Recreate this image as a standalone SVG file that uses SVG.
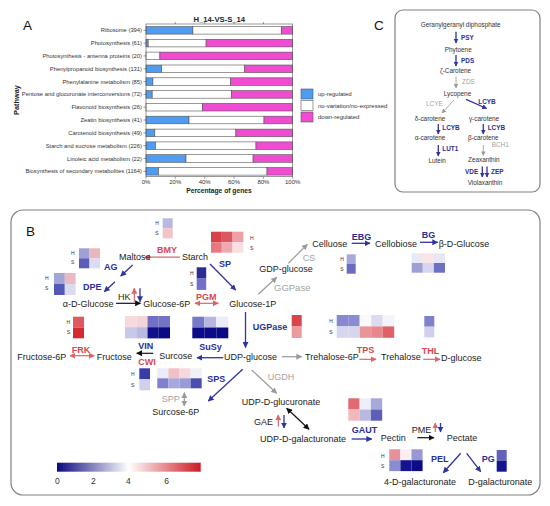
<svg xmlns="http://www.w3.org/2000/svg" width="550" height="506" viewBox="0 0 550 506">
<style>
text{font-family:"Liberation Sans",Arial,sans-serif}
.t{font-size:9px;fill:#222}
.eb{font-size:9px;font-weight:bold;fill:#2b2f93}
.er{font-size:9px;font-weight:bold;fill:#d6474e}
.eg{font-size:9px;fill:#a3a3a3}
.hs{font-size:5px;fill:#333;text-anchor:middle}
.al{font-size:5.8px;fill:#333;text-anchor:end}
.ax{font-size:6px;fill:#333;text-anchor:middle}
.lg{font-size:6px;fill:#333}
.ct{font-size:6.4px;fill:#333;text-anchor:middle}
.cb{font-size:6.4px;font-weight:bold;fill:#2b2f93}
.cg{font-size:6.4px;fill:#a3a3a3}
.pl{font-size:13.5px;fill:#111}
.up{fill:#4f9cf0;stroke:#555;stroke-width:0.6}
.no{fill:#fff;stroke:#555;stroke-width:0.6}
.dn{fill:#f04cd2;stroke:#555;stroke-width:0.6}
.lb{stroke:#2f34a0;stroke-width:1.3;fill:none;marker-end:url(#mb)}
.lr{stroke:#de6468;stroke-width:1.2;fill:none;marker-end:url(#mr)}
.lr2{stroke:#de6468;stroke-width:1.2;fill:none;marker-end:url(#mr);marker-start:url(#mr)}
.lg1{stroke:#9a9a9a;stroke-width:1.2;fill:none;marker-end:url(#mg)}
.lg2{stroke:#9a9a9a;stroke-width:1.2;fill:none;marker-end:url(#mg);marker-start:url(#mg)}
.lk{stroke:#111;stroke-width:1.2;fill:none;marker-end:url(#mk)}
.lk2{stroke:#111;stroke-width:1.2;fill:none;marker-end:url(#mk);marker-start:url(#mk)}
.cl{stroke:#2f34a0;stroke-width:1.3;fill:none;marker-end:url(#sb)}
.cgl{stroke:#9a9a9a;stroke-width:0.8;fill:none;marker-end:url(#sg)}
.box{fill:none;stroke:#808080;stroke-width:1.2}
</style>
<defs>
<marker id="mb" viewBox="0 0 10 10" refX="9" refY="5" markerWidth="6" markerHeight="6" markerUnits="userSpaceOnUse" orient="auto-start-reverse"><path d="M0,0L10,5L0,10z" fill="#2f34a0"/></marker>
<marker id="mr" viewBox="0 0 10 10" refX="9" refY="5" markerWidth="6" markerHeight="6" markerUnits="userSpaceOnUse" orient="auto-start-reverse"><path d="M0,0L10,5L0,10z" fill="#de6468"/></marker>
<marker id="mg" viewBox="0 0 10 10" refX="9" refY="5" markerWidth="6" markerHeight="6" markerUnits="userSpaceOnUse" orient="auto-start-reverse"><path d="M0,0L10,5L0,10z" fill="#9a9a9a"/></marker>
<marker id="mk" viewBox="0 0 10 10" refX="9" refY="5" markerWidth="6" markerHeight="6" markerUnits="userSpaceOnUse" orient="auto-start-reverse"><path d="M0,0L10,5L0,10z" fill="#111"/></marker>
<marker id="sb" viewBox="0 0 10 10" refX="9" refY="5" markerWidth="5" markerHeight="5" markerUnits="userSpaceOnUse" orient="auto"><path d="M0,0L10,5L0,10z" fill="#2f34a0"/></marker>
<marker id="sg" viewBox="0 0 10 10" refX="9" refY="5" markerWidth="4.5" markerHeight="4.5" markerUnits="userSpaceOnUse" orient="auto"><path d="M0,0L10,5L0,10z" fill="#9a9a9a"/></marker>
<linearGradient id="cbar" x1="0" y1="0" x2="1" y2="0">
<stop offset="0" stop-color="#0a0a80"/><stop offset="0.5" stop-color="#ffffff"/><stop offset="1" stop-color="#cc1a22"/>
</linearGradient>
</defs>
<rect width="550" height="506" fill="#fff"/>

<!-- Panel A -->
<g id="panelA">
<text class="pl" x="23" y="30">A</text>
<text x="219.3" y="22" style="font-size:7.7px;font-weight:bold;fill:#222" text-anchor="middle">H_14-VS-S_14</text>
<text transform="translate(19,100) rotate(-90)" style="font-size:7.4px;font-weight:bold;fill:#222" text-anchor="middle">Pathway</text>
<g id="bars">
<rect class="up" x="146" y="26.5" width="46.9" height="7.6"/><rect class="no" x="192.9" y="26.5" width="88.8" height="7.6"/><rect class="dn" x="281.7" y="26.5" width="11" height="7.6"/>
<rect class="up" x="146" y="39.3" width="2.2" height="7.6"/><rect class="no" x="148.2" y="39.3" width="57.9" height="7.6"/><rect class="dn" x="206.1" y="39.3" width="86.6" height="7.6"/>
<rect class="no" x="146" y="52.1" width="13.9" height="7.6"/><rect class="dn" x="159.9" y="52.1" width="132.8" height="7.6"/>
<rect class="up" x="146" y="65" width="15.7" height="7.6"/><rect class="no" x="161.7" y="65" width="83" height="7.6"/><rect class="dn" x="244.7" y="65" width="48" height="7.6"/>
<rect class="up" x="146" y="77.8" width="6.9" height="7.6"/><rect class="no" x="152.9" y="77.8" width="77.7" height="7.6"/><rect class="dn" x="230.6" y="77.8" width="62.1" height="7.6"/>
<rect class="up" x="146" y="90.6" width="6.2" height="7.6"/><rect class="no" x="152.2" y="90.6" width="79.3" height="7.6"/><rect class="dn" x="231.5" y="90.6" width="61.2" height="7.6"/>
<rect class="no" x="146" y="103.4" width="56.3" height="7.6"/><rect class="dn" x="202.3" y="103.4" width="90.4" height="7.6"/>
<rect class="up" x="146" y="116.2" width="43" height="7.6"/><rect class="no" x="189" y="116.2" width="75" height="7.6"/><rect class="dn" x="264" y="116.2" width="28.7" height="7.6"/>
<rect class="up" x="146" y="129.1" width="8.8" height="7.6"/><rect class="no" x="154.8" y="129.1" width="81.1" height="7.6"/><rect class="dn" x="235.9" y="129.1" width="56.8" height="7.6"/>
<rect class="up" x="146" y="141.9" width="9.5" height="7.6"/><rect class="no" x="155.5" y="141.9" width="100.5" height="7.6"/><rect class="dn" x="256" y="141.9" width="36.7" height="7.6"/>
<rect class="up" x="146" y="154.7" width="40" height="7.6"/><rect class="no" x="186" y="154.7" width="67.1" height="7.6"/><rect class="dn" x="253.1" y="154.7" width="39.6" height="7.6"/>
<rect class="up" x="146" y="167.5" width="12.5" height="7.6"/><rect class="no" x="158.5" y="167.5" width="108.5" height="7.6"/><rect class="dn" x="267" y="167.5" width="25.7" height="7.6"/>
</g>
<g id="axes" stroke="#555" stroke-width="0.6" fill="none">
<rect x="146" y="24" width="146.7" height="152.7"/>
<path d="M175.3,24v-2M204.7,24v-2M234,24v-2M263.4,24v-2M146,176.7v2M175.3,176.7v2M204.7,176.7v2M234,176.7v2M263.4,176.7v2M292.7,176.7v2"/>
<path d="M143.5,30.3h2.5M143.5,43.1h2.5M143.5,55.9h2.5M143.5,68.8h2.5M143.5,81.6h2.5M143.5,94.4h2.5M143.5,107.2h2.5M143.5,120h2.5M143.5,132.9h2.5M143.5,145.7h2.5M143.5,158.5h2.5M143.5,171.3h2.5"/>
</g>
<g id="catlabels">
<text class="al" x="142" y="32.3">Ribosome (394)</text>
<text class="al" x="142" y="45.1">Photosynthesis (61)</text>
<text class="al" x="142" y="57.9">Photosynthesis - antenna proteins (20)</text>
<text class="al" x="142" y="70.8">Phenylpropanoid biosynthesis (131)</text>
<text class="al" x="142" y="83.6">Phenylalanine metabolism (85)</text>
<text class="al" x="142" y="96.4">Pentose and glucuronate interconversions (72)</text>
<text class="al" x="142" y="109.2">Flavonoid biosynthesis (26)</text>
<text class="al" x="142" y="122">Zeatin biosynthesis (41)</text>
<text class="al" x="142" y="134.9">Carotenoid biosynthesis (49)</text>
<text class="al" x="142" y="147.7">Starch and sucrose metabolism (226)</text>
<text class="al" x="142" y="160.5">Linoleic acid metabolism (22)</text>
<text class="al" x="142" y="173.3">Biosynthesis of secondary metabolites (1164)</text>
</g>
<g id="ticklabels">
<text class="ax" x="146" y="183.7">0%</text><text class="ax" x="175.3" y="183.7">20%</text><text class="ax" x="204.7" y="183.7">40%</text><text class="ax" x="234" y="183.7">60%</text><text class="ax" x="263.4" y="183.7">80%</text><text class="ax" x="292.7" y="183.7">100%</text>
</g>
<text x="219" y="192.8" style="font-size:6.7px;font-weight:bold;fill:#222" text-anchor="middle">Percentage of genes</text>
<g id="legendA">
<rect class="up" x="301" y="89" width="12" height="10"/><text class="lg" x="318" y="96">up-regulated</text>
<rect class="no" x="301" y="100.5" width="12" height="10"/><text class="lg" x="318" y="107.5">no-variation/no-expressed</text>
<rect class="dn" x="301" y="112" width="12" height="10"/><text class="lg" x="318" y="119">down-regulated</text>
</g>
</g>

<!-- Panel C -->
<g id="panelC">
<text class="pl" x="374" y="30">C</text>
<rect class="box" x="395" y="10" width="145" height="182" rx="8"/>
<g id="c-nodes">
<text id="ggpp" class="ct" x="460.7" y="26.6">Geranylgeranyl diphosphate</text>
<text id="phytoene" class="ct" x="458.2" y="51.6">Phytoene</text>
<text id="zcarotene" class="ct" x="455.5" y="73.4">ζ-Carotene</text>
<text id="lycopene" class="ct" x="457.5" y="95.6">Lycopene</text>
<text id="dcarotene" class="ct" x="430" y="120.6">δ-carotene</text>
<text id="gcarotene" class="ct" x="484" y="120.6">γ-carotene</text>
<text id="acarotene" class="ct" x="430" y="140">α-carotene</text>
<text id="bcarotene" class="ct" x="483.3" y="140">β-carotene</text>
<text id="lutein" class="ct" x="437.2" y="163.3">Lutein</text>
<text id="zeaxanthin" class="ct" x="483.8" y="161.7">Zeaxanthin</text>
<text id="violaxanthin" class="ct" x="485" y="184.6">Violaxanthin</text>
</g>
<g id="c-connectors">
<line class="cl" x1="456" y1="31.7" x2="456" y2="43"/>
<line class="cl" x1="456" y1="55" x2="456" y2="66"/>
<line class="cgl" x1="456" y1="76.7" x2="456" y2="88"/>
<line class="cgl" x1="454" y1="100" x2="442" y2="113"/>
<line class="cl" x1="466" y1="99.3" x2="486.7" y2="108.5"/>
<line class="cl" x1="438.3" y1="124" x2="438.3" y2="134"/>
<line class="cl" x1="483.3" y1="124" x2="483.3" y2="134"/>
<line class="cl" x1="438.3" y1="145" x2="438.3" y2="156"/>
<line class="cgl" x1="483.3" y1="145" x2="483.3" y2="155.5"/>
<line class="cl" x1="482.3" y1="166.5" x2="482.3" y2="177"/>
<line class="cl" x1="487" y1="166.5" x2="487" y2="177"/>
</g>
<g id="c-enzymes">
<text class="cb" x="461" y="39.6">PSY</text>
<text class="cb" x="461" y="62.5">PDS</text>
<text class="cg" x="462" y="84">ZDS</text>
<text class="cg" x="426" y="106">LCYE</text>
<text class="cb" x="478.3" y="104">LCYB</text>
<text class="cb" x="442.3" y="129.6">LCYB</text>
<text class="cb" x="487.7" y="129.6">LCYB</text>
<text class="cb" x="442.3" y="151">LUT1</text>
<text class="cg" x="491.7" y="147.3">BCH1</text>
<text class="cb" x="465" y="174.3">VDE</text>
<text class="cb" x="491" y="174.3">ZEP</text>
</g>
</g>

<!-- Panel B -->
<g id="panelB">
<text class="pl" x="26" y="236">B</text>
<rect class="box" x="11" y="210" width="529" height="285" rx="12"/>

<g id="connectors">
<line class="lr" x1="180" y1="257.2" x2="145" y2="257.2"/>
<line class="lb" x1="132.7" y1="265" x2="120.7" y2="276"/>
<line class="lb" x1="115" y1="281.7" x2="104.3" y2="291.7"/>
<line class="lk" x1="116" y1="303.3" x2="140.5" y2="303.3"/>
<line class="lr" x1="134.3" y1="301.7" x2="134.3" y2="288.3"/>
<line class="lb" x1="140" y1="288.3" x2="140" y2="301.7"/>
<line class="lr2" x1="195" y1="303.3" x2="218.3" y2="303.3"/>
<line class="lb" x1="210" y1="264" x2="235.7" y2="290"/>
<line class="lg1" x1="258.3" y1="294.3" x2="276.7" y2="277.3"/>
<line class="lg1" x1="288.3" y1="263.3" x2="307.3" y2="244.3"/>
<line class="lb" x1="351.7" y1="243.3" x2="370" y2="243.3"/>
<line class="lb" x1="420" y1="242.3" x2="437.7" y2="242.3"/>
<line class="lb" x1="245.5" y1="312" x2="245.5" y2="347.5"/>
<line class="lb" x1="223.3" y1="357.7" x2="197" y2="357.7"/>
<line class="lk" x1="153.3" y1="353.3" x2="136.7" y2="353.3"/>
<line class="lr2" x1="70" y1="355.7" x2="94.3" y2="355.7"/>
<line class="lb" x1="242.7" y1="369.3" x2="208.3" y2="401"/>
<line class="lg2" x1="184.3" y1="392.7" x2="184.3" y2="406"/>
<line class="lg1" x1="251.7" y1="370" x2="276.7" y2="393.3"/>
<line class="lg1" x1="281.7" y1="356.7" x2="301.7" y2="356.7"/>
<line class="lr" x1="359.3" y1="359.3" x2="376" y2="359.3"/>
<line class="lr" x1="423.3" y1="359.3" x2="440" y2="359.3"/>
<line class="lk2" x1="286.7" y1="408.3" x2="309" y2="429.3"/>
<line class="lr" x1="278.3" y1="426.5" x2="278.3" y2="415"/>
<line class="lb" x1="284" y1="415" x2="284" y2="428"/>
<line class="lb" x1="351.7" y1="439" x2="371.7" y2="439"/>
<line class="lk" x1="417.3" y1="437.7" x2="434" y2="437.7"/>
<line class="lr" x1="435.3" y1="432" x2="435.3" y2="423"/>
<line class="lb" x1="440.5" y1="423" x2="440.5" y2="432"/>
<line class="lb" x1="460.7" y1="453.3" x2="443.3" y2="472.7"/>
<line class="lb" x1="466.7" y1="453.3" x2="480.7" y2="471.7"/>
</g>

<g id="n-maltose"><text class="t" x="119" y="260">Maltose</text></g>
<g id="n-starch"><text class="t" x="182" y="259.5">Starch</text></g>
<g id="n-adglucose"><text class="t" x="62.7" y="306.5">α-D-Glucose</text></g>
<g id="n-glucose6p"><text class="t" x="143.3" y="306.5">Glucose-6P</text></g>
<g id="n-glucose1p"><text class="t" x="229.3" y="306.5">Glucose-1P</text></g>
<g id="n-gdpglucose"><text class="t" x="259.3" y="272">GDP-glucose</text></g>
<g id="n-celluose"><text class="t" x="312.3" y="247">Celluose</text></g>
<g id="n-cellobiose"><text class="t" x="375" y="246.5">Cellobiose</text></g>
<g id="n-bdglucose"><text class="t" x="438.7" y="246.5">β-D-Glucose</text></g>
<g id="n-fructose6p"><text class="t" x="17.3" y="359.7">Fructose-6P</text></g>
<g id="n-fructose"><text class="t" x="96.7" y="359.7">Fructose</text></g>
<g id="n-surcose"><text class="t" x="159.3" y="358.5">Surcose</text></g>
<g id="n-udpglucose"><text class="t" x="224" y="359.7">UDP-glucose</text></g>
<g id="n-trehalose6p"><text class="t" x="305" y="359.7">Trehalose-6P</text></g>
<g id="n-trehalose"><text class="t" x="381" y="359.7">Trehalose</text></g>
<g id="n-dglucose"><text class="t" x="441" y="361">D-glucose</text></g>
<g id="n-surcose6p"><text class="t" x="152.3" y="414.7">Surcose-6P</text></g>
<g id="n-udpglucuronate"><text class="t" x="241.7" y="404.7">UDP-D-glucuronate</text></g>
<g id="n-udpgalacturonate"><text class="t" x="260" y="442">UDP-D-galacturonate</text></g>
<g id="n-pectin"><text class="t" x="380.7" y="440.7">Pectin</text></g>
<g id="n-pectate"><text class="t" x="446.7" y="440.7">Pectate</text></g>
<g id="n-4dgal"><text class="t" x="384" y="484.7">4-D-galacturonate</text></g>
<g id="n-dgal"><text class="t" x="468.3" y="484.7">D-galacturonate</text></g>

<g id="e-bmy"><text class="er" x="157" y="253.3">BMY</text>
<rect x="162.7" y="218.3" width="10" height="10" fill="#b8b8e0"/><rect x="162.7" y="228.3" width="10" height="10" fill="#f2c4c8"/>
<text class="hs" x="157" y="225">H</text><text class="hs" x="157" y="235">S</text></g>
<g id="e-ag"><text class="eb" x="104" y="270">AG</text>
<rect x="79" y="248.3" width="10.5" height="10" fill="#9fa0d5"/><rect x="89.5" y="248.3" width="10.5" height="10" fill="#eab6bd"/>
<rect x="79" y="258.3" width="10.5" height="10" fill="#5a5cb8"/><rect x="89.5" y="258.3" width="10.5" height="10" fill="#dcdcf0"/>
<text class="hs" x="72.7" y="255">H</text><text class="hs" x="72.7" y="264">S</text></g>
<g id="e-dpe"><text class="eb" x="83" y="290">DPE</text>
<rect x="54" y="273" width="10.8" height="11" fill="#a3a4d7"/><rect x="64.8" y="273" width="10.8" height="11" fill="#ecb8c1"/>
<rect x="54" y="284" width="10.8" height="11" fill="#5557b6"/><rect x="64.8" y="284" width="10.8" height="11" fill="#dadaf0"/>
<text class="hs" x="46.7" y="280">H</text><text class="hs" x="46.7" y="290">S</text></g>
<g id="e-hk"><text class="t" x="118" y="299.7">HK</text></g>
<g id="e-pgm"><text class="er" x="196" y="300">PGM</text>
<rect x="196.7" y="267.3" width="9.5" height="11.3" fill="#2b2d95"/><rect x="196.7" y="278.6" width="9.5" height="11.3" fill="#7070c8"/>
<text class="hs" x="191.7" y="274.5">H</text><text class="hs" x="191.7" y="286">S</text></g>
<g id="e-sp"><text class="eb" x="219" y="267">SP</text>
<rect x="211" y="231.7" width="10.8" height="10.5" fill="#d8404a"/><rect x="221.8" y="231.7" width="10.8" height="10.5" fill="#dc5860"/><rect x="232.6" y="231.7" width="10.8" height="10.5" fill="#eea0a6"/>
<rect x="211" y="242.2" width="10.8" height="10.5" fill="#e6787f"/><rect x="221.8" y="242.2" width="10.8" height="10.5" fill="#eeaab0"/><rect x="232.6" y="242.2" width="10.8" height="10.5" fill="#f8e0e2"/>
<text class="hs" x="251.7" y="239.5">H</text><text class="hs" x="251.7" y="250">S</text></g>
<g id="e-ggpase"><text class="eg" x="274" y="290.5" style="font-size:9.5px">GGPase</text></g>
<g id="e-cs"><text class="eg" x="302.7" y="261">CS</text></g>
<g id="e-ebg"><text class="eb" x="351.7" y="240">EBG</text>
<rect x="346.7" y="254.3" width="9" height="9.7" fill="#a8a8da"/><rect x="346.7" y="264" width="9" height="9.7" fill="#6a6cc0"/>
<text class="hs" x="342" y="261">H</text><text class="hs" x="342" y="270.5">S</text></g>
<g id="e-bg"><text class="eb" x="421.7" y="238.3">BG</text>
<rect x="411.7" y="253.3" width="11.1" height="9.7" fill="#e9e9f6"/><rect x="422.8" y="253.3" width="11.1" height="9.7" fill="#fbe4e7"/><rect x="433.9" y="253.3" width="11.1" height="9.7" fill="#e6e6f4"/>
<rect x="411.7" y="263" width="11.1" height="9.7" fill="#a0a0d6"/><rect x="422.8" y="263" width="11.1" height="9.7" fill="#d6d6ee"/><rect x="433.9" y="263" width="11.1" height="9.7" fill="#6e70c4"/></g>
<g id="e-ugpase"><text class="eb" x="252.7" y="330">UGPase</text>
<rect x="291.7" y="315" width="10" height="11.5" fill="#d9434a"/><rect x="291.7" y="326.5" width="10" height="11.5" fill="#eb9a9e"/></g>
<g id="e-tps"><text class="er" x="356.7" y="352.5">TPS</text>
<rect x="336.7" y="315" width="11.5" height="11.4" fill="#8788d0"/><rect x="348.2" y="315" width="11.5" height="11.4" fill="#8a8bd1"/><rect x="359.7" y="315" width="11.5" height="11.4" fill="#fafafd"/><rect x="371.2" y="315" width="11.5" height="11.4" fill="#dcdcf0"/><rect x="382.7" y="315" width="11.5" height="11.4" fill="#f4f4fb"/>
<rect x="336.7" y="326.4" width="11.5" height="11.4" fill="#d6d6ee"/><rect x="348.2" y="326.4" width="11.5" height="11.4" fill="#d6d6ee"/><rect x="359.7" y="326.4" width="11.5" height="11.4" fill="#e89498"/><rect x="371.2" y="326.4" width="11.5" height="11.4" fill="#e6888e"/><rect x="382.7" y="326.4" width="11.5" height="11.4" fill="#df6068"/>
<text class="hs" x="331" y="323">H</text><text class="hs" x="331" y="334">S</text></g>
<g id="e-thl"><text class="er" x="421.7" y="354">THL</text>
<rect x="424.3" y="316" width="10" height="10.7" fill="#8080cc"/><rect x="424.3" y="326.7" width="10" height="10.7" fill="#d0d0ec"/></g>
<g id="e-susy"><text class="eb" x="199.3" y="350">SuSy</text>
<rect x="192.3" y="316.7" width="12" height="10.8" fill="#7879c8"/><rect x="204.3" y="316.7" width="12" height="10.8" fill="#b6b6e0"/><rect x="216.3" y="316.7" width="12" height="10.8" fill="#ececf8"/>
<rect x="192.3" y="327.5" width="12" height="10.8" fill="#0c0c88"/><rect x="204.3" y="327.5" width="12" height="10.8" fill="#0c0c88"/><rect x="216.3" y="327.5" width="12" height="10.8" fill="#0a0a85"/></g>
<g id="e-vin"><text class="eb" x="138.3" y="349">VIN</text>
<rect x="125" y="316" width="11.25" height="11.2" fill="#f6dadd"/><rect x="136.25" y="316" width="11.25" height="11.2" fill="#f2d5d9"/><rect x="147.5" y="316" width="11.25" height="11.2" fill="#7070c4"/><rect x="158.75" y="316" width="11.25" height="11.2" fill="#7374c6"/>
<rect x="125" y="327.2" width="11.25" height="11.2" fill="#c8c8ea"/><rect x="136.25" y="327.2" width="11.25" height="11.2" fill="#b9b9e2"/><rect x="147.5" y="327.2" width="11.25" height="11.2" fill="#10108a"/><rect x="158.75" y="327.2" width="11.25" height="11.2" fill="#0a0a85"/></g>
<g id="e-cwi"><text class="er" x="138.3" y="365">CWI</text>
<rect x="139.3" y="368.3" width="10.7" height="11" fill="#3a3ca5"/><rect x="139.3" y="379.3" width="10.7" height="11" fill="#d0d0ec"/>
<text class="hs" x="132.7" y="376">H</text><text class="hs" x="132.7" y="387">S</text></g>
<g id="e-frk"><text class="er" x="71.7" y="352.5">FRK</text>
<rect x="73" y="316.7" width="11" height="10.8" fill="#de5a60"/><rect x="73" y="327.5" width="11" height="10.8" fill="#d42a30"/>
<text class="hs" x="68.3" y="323.5">H</text><text class="hs" x="68.3" y="333.5">S</text></g>
<g id="e-sps"><text class="eb" x="207.3" y="382">SPS</text>
<rect x="157.3" y="368.3" width="11.1" height="10" fill="#ececf8"/><rect x="168.4" y="368.3" width="11.1" height="10" fill="#f2bfc4"/><rect x="179.5" y="368.3" width="11.1" height="10" fill="#f4d8dc"/><rect x="190.6" y="368.3" width="11.1" height="10" fill="#f0f0f8"/>
<rect x="157.3" y="378.3" width="11.1" height="10" fill="#8080cc"/><rect x="168.4" y="378.3" width="11.1" height="10" fill="#a8a8dc"/><rect x="179.5" y="378.3" width="11.1" height="10" fill="#9a9ad6"/><rect x="190.6" y="378.3" width="11.1" height="10" fill="#4a4cb0"/></g>
<g id="e-spp"><text class="eg" x="161.7" y="402">SPP</text></g>
<g id="e-ugdh"><text class="eg" x="267.7" y="380">UGDH</text></g>
<g id="e-gae"><text class="t" x="254" y="424.7">GAE</text></g>
<g id="e-gaut"><text class="eb" x="351.7" y="433">GAUT</text>
<rect x="348.3" y="398.3" width="11.3" height="11.2" fill="#e06a70"/><rect x="359.6" y="398.3" width="11.3" height="11.2" fill="#eeeef8"/><rect x="370.9" y="398.3" width="11.3" height="11.2" fill="#a8a8da"/>
<rect x="348.3" y="409.5" width="11.3" height="11.2" fill="#f2b8bc"/><rect x="359.6" y="409.5" width="11.3" height="11.2" fill="#b8b8e0"/><rect x="370.9" y="409.5" width="11.3" height="11.2" fill="#5c5eba"/></g>
<g id="e-pme"><text class="t" x="411.7" y="433">PME</text></g>
<g id="e-pel"><text class="eb" x="431" y="462">PEL</text>
<rect x="389.3" y="449.3" width="11.1" height="10.9" fill="#e8909a"/><rect x="400.4" y="449.3" width="11.1" height="10.9" fill="#fbeef0"/><rect x="411.5" y="449.3" width="11.1" height="10.9" fill="#9898d4"/>
<rect x="389.3" y="460.2" width="11.1" height="10.9" fill="#8a8cd0"/><rect x="400.4" y="460.2" width="11.1" height="10.9" fill="#141490"/><rect x="411.5" y="460.2" width="11.1" height="10.9" fill="#0c0c88"/>
<text class="hs" x="382.7" y="457.5">H</text><text class="hs" x="382.7" y="468">S</text></g>
<g id="e-pg"><text class="eb" x="481.7" y="461.5">PG</text>
<rect x="496.7" y="450" width="10" height="10.7" fill="#6262bc"/><rect x="496.7" y="460.7" width="10" height="11" fill="#14148c"/></g>

<g id="colorbar">
<rect x="57" y="462.7" width="143.7" height="9" fill="url(#cbar)"/>
<text x="57.3" y="483.7" style="font-size:8.5px;fill:#333" text-anchor="middle">0</text>
<text x="93.3" y="483.7" style="font-size:8.5px;fill:#333" text-anchor="middle">2</text>
<text x="128.3" y="483.7" style="font-size:8.5px;fill:#333" text-anchor="middle">4</text>
<text x="166.7" y="483.7" style="font-size:8.5px;fill:#333" text-anchor="middle">6</text>
</g>
</g>
</svg>
